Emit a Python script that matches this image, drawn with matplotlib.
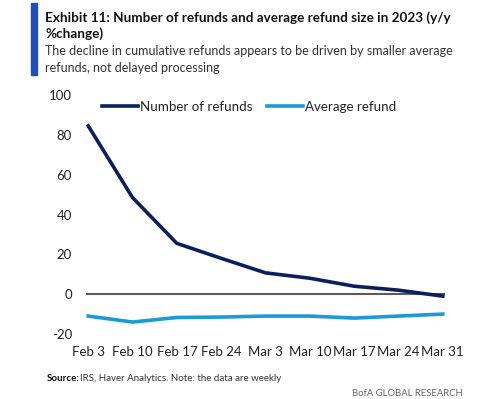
import matplotlib
matplotlib.use("Agg")
import matplotlib.pyplot as plt
from matplotlib.patches import Rectangle

dates = ["Feb 3", "Feb 10", "Feb 17", "Feb 24", "Mar 3", "Mar 10", "Mar 17", "Mar 24", "Mar 31"]
num_refunds = [84.5, 48.5, 25.5, 18.0, 10.7, 8.0, 4.0, 2.0, -1.0]
avg_refund = [-11.0, -14.0, -11.7, -11.5, -11.0, -11.0, -12.0, -11.0, -10.0]
yticks = [-20, 0, 20, 40, 60, 80, 100]

plt.rcParams['font.family'] = ['Lato', 'DejaVu Sans']
plt.rcParams['axes.unicode_minus'] = False

W, H = 500, 399
fig = plt.figure(figsize=(W/100, H/100), dpi=100)

def fx(px): return px / W
def fy(py): return 1 - py / H

ax = fig.add_axes([fx(86), fy(334), fx(445) - fx(86), fy(95) - fy(334)])
x = list(range(len(dates)))
navy = "#0b1f5e"
lblue = "#1b9ad6"
ax.axhline(0, color="#5a5a5a", lw=1.5, zorder=1)
ax.plot(x, num_refunds, color=navy, lw=2.6, label="Number of refunds", zorder=3)
ax.plot(x, avg_refund, color=lblue, lw=2.6, label="Average refund", zorder=2)
ax.set_xlim(-0.05, 8.05)
ax.set_ylim(-20, 100)
ax.set_yticks(yticks)
ax.set_xticks(x)
ax.set_xticklabels(dates)
for s in ax.spines.values():
    s.set_visible(False)
ax.tick_params(length=0, labelsize=9.5, colors="#222222", pad=10)
ax.tick_params(axis='x', pad=9)

leg = ax.legend(loc="upper left", bbox_to_anchor=(0.01, 1.025), ncol=2, frameon=False,
                fontsize=9.6, handlelength=2.7, columnspacing=1.1, handletextpad=0.15,
                labelcolor="#222222")

# title block
fig.patches.append(Rectangle((fx(31), fy(75)), fx(37) - fx(31), fy(3) - fy(75),
                             transform=fig.transFigure, color="#1f4fbf", zorder=5))
fig.text(fx(45), fy(22), "Exhibit 11: Number of refunds and average refund size in 2023 (y/y",
         fontsize=9.75, fontweight="bold", color="#111111")
fig.text(fx(45), fy(38), "%change)", fontsize=9.75, fontweight="bold", color="#111111")
fig.text(fx(45), fy(55), "The decline in cumulative refunds appears to be driven by smaller average",
         fontsize=9.0, color="#333333")
fig.text(fx(45), fy(72), "refunds, not delayed processing", fontsize=9.0, color="#333333")

fig.text(fx(47), fy(381), "Source:", fontsize=7, fontweight="bold", color="#111111")
fig.text(fx(80), fy(381), "IRS, Haver Analytics. Note: the data are weekly", fontsize=7, color="#333333")
fig.text(fx(463), fy(396), "BofA GLOBAL RESEARCH", fontsize=6.8, color="#666666", ha="right")

fig.savefig("out.png", dpi=100)
